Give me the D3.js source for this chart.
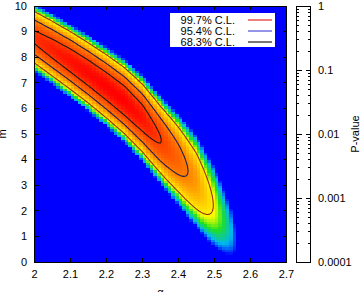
<!DOCTYPE html>
<html>
<head>
<meta charset="utf-8">
<script src="https://cdn.jsdelivr.net/npm/d3@7"></script>
<style>
  body { margin: 0; background: #fff; }
  text { font-family: "Liberation Sans", Arial, sans-serif; font-size: 11px; fill: #000; }
</style>
</head>
<body>
<svg id="chart" width="362" height="292"></svg>
<script>
// ridge of the fit (a, centre m, vertical width, chi2 offset)
const ridgeA  = [1.95, 2.0, 2.05, 2.1, 2.15, 2.2, 2.25, 2.3, 2.35, 2.4, 2.45, 2.5, 2.55, 2.6, 2.7];
const ridgeM  = [9.25, 8.78, 8.33, 7.87, 7.38, 6.86, 6.3, 5.62, 4.78, 4.0, 3.15, 2.15, 1.1, -0.3, -4];
const ridgeW  = [0.31, 0.316, 0.325, 0.335, 0.345, 0.36, 0.375, 0.395, 0.42, 0.47, 0.53, 0.59, 0.62, 0.7, 1.0];
const ridgeC0 = [3.5, 1.67, 1.0, 0.5, 0.2, 0.05, 0.0, 0.6, 2.2, 4.6, 7.6, 12.1, 17.3, 25, 40];

// delta chi2 -> log10(P-value) as the colours show it
const dchiKnots = [0, 2.3, 6.18, 11.8, 13, 14.5, 16, 17.5, 19];
const logPKnots = [0, -0.25, -0.5, -0.95, -1.4, -2.05, -2.65, -3.3, -4];

const clLevels = [11.8, 6.18, 2.3];
const clNames  = ["99.7% C.L.", "95.4% C.L.", "68.3% C.L."];
const clLegendColors = ["#e00000", "#2a2ad8", "#777777"];
const clLineColors   = ["#983010", "#201c50", "#181818"];

const aTicks = [2, 2.1, 2.2, 2.3, 2.4, 2.5, 2.6, 2.7];
const mTicks = [0, 1, 2, 3, 4, 5, 6, 7, 8, 9, 10];
const pTicks = [1, 0.1, 0.01, 0.001, 0.0001];

const svg = d3.select("#chart");
const L = 34.5, R = 286.5, T = 6, B = 262;

const x = d3.scaleLinear().domain([2, 2.7]).range([L, R]);
const y = d3.scaleLinear().domain([0, 10]).range([B, T]);

const mc = d3.scaleLinear().domain(ridgeA).range(ridgeM).clamp(true);
const mw = d3.scaleLinear().domain(ridgeA).range(ridgeW).clamp(true);
const c0 = d3.scaleLinear().domain(ridgeA).range(ridgeC0).clamp(true);
const toLogP = d3.scaleLinear().domain(dchiKnots).range(logPKnots).clamp(true);

function dchi(a, m) {
  const d = (m - mc(a)) / mw(a);
  return c0(a) + d * d;
}

const color = d3.scaleLinear()
  .domain([-4, -3, -2, -1, 0])
  .range(["#0000ff", "#00b8f0", "#20e020", "#ffff00", "#ff0000"]);

// heat map cells
const da = 0.01, dm = 0.1;
const cells = [];
for (let i = 0; i < 70; i++) {
  for (let j = 0; j < 100; j++) {
    const a = 2 + (i + 0.5) * da, m = (j + 0.5) * dm;
    cells.push({a: 2 + i * da, m: j * dm, v: toLogP(dchi(a, m))});
  }
}

svg.append("defs").append("clipPath").attr("id", "plotclip")
  .append("rect").attr("x", L).attr("y", T).attr("width", R - L).attr("height", B - T);

const plot = svg.append("g").attr("clip-path", "url(#plotclip)");

plot.append("g").attr("shape-rendering", "crispEdges")
  .selectAll("rect").data(cells).join("rect")
  .attr("x", d => x(d.a))
  .attr("y", d => y(d.m + dm))
  .attr("width", x(2 + da) - x(2) + 0.6)
  .attr("height", y(0) - y(dm) + 0.6)
  .attr("fill", d => color(d.v));

// contours of delta chi2
const ca0 = 1.97, cda = 0.004, cnx = 191;
const cm0 = -0.2, cdm = 0.04, cny = 261;
const grid = new Array(cnx * cny);
for (let j = 0; j < cny; j++) {
  for (let i = 0; i < cnx; i++) {
    grid[j * cnx + i] = -dchi(ca0 + i * cda, cm0 + j * cdm);
  }
}
const contours = d3.contours().size([cnx, cny]).thresholds(clLevels.map(v => -v))(grid);
const proj = d3.geoTransform({
  point(px, py) {
    this.stream.point(x(ca0 + (px - 0.5) * cda), y(cm0 + (py - 0.5) * cdm));
  }
});
const path = d3.geoPath(proj);

plot.append("g").selectAll("path").data(contours).join("path")
  .attr("d", path)
  .attr("fill", "none")
  .attr("stroke", d => clLineColors[clLevels.indexOf(-d.value)])
  .attr("stroke-width", 1.1);

// legend
const leg = svg.append("g");
leg.append("rect").attr("x", 170).attr("y", 13).attr("width", 105).attr("height", 34).attr("fill", "#fff");
clNames.forEach((name, i) => {
  const ly = 20 + i * 11;
  leg.append("text").attr("x", 235).attr("y", ly + 3.8).attr("text-anchor", "end").text(name);
  leg.append("line").attr("x1", 248).attr("x2", 272).attr("y1", ly).attr("y2", ly)
    .attr("stroke", clLegendColors[i]).attr("stroke-width", i === 2 ? 2 : 1);
});

// frame and ticks
const ax = svg.append("g").attr("stroke", "#000").attr("shape-rendering", "crispEdges");
ax.append("rect").attr("x", L).attr("y", T).attr("width", R - L).attr("height", B - T)
  .attr("fill", "none").attr("stroke-width", 1);
aTicks.forEach(t => {
  ax.append("line").attr("x1", x(t)).attr("x2", x(t)).attr("y1", B).attr("y2", B - 4);
  ax.append("line").attr("x1", x(t)).attr("x2", x(t)).attr("y1", T).attr("y2", T + 4);
});
mTicks.forEach(t => {
  ax.append("line").attr("x1", L).attr("x2", L + 4).attr("y1", y(t)).attr("y2", y(t));
  ax.append("line").attr("x1", R).attr("x2", R - 4).attr("y1", y(t)).attr("y2", y(t));
});

svg.append("g").selectAll("text").data(aTicks).join("text")
  .attr("x", d => x(d)).attr("y", 278).attr("text-anchor", "middle").text(d => d);
svg.append("g").selectAll("text").data(mTicks).join("text")
  .attr("x", 27).attr("y", d => y(d)).attr("dy", "0.35em").attr("text-anchor", "end").text(d => d);

svg.append("text").attr("transform", `translate(160.5,296)`).attr("text-anchor", "middle").text("α");
svg.append("text").attr("transform", `translate(6,134) rotate(-90)`).attr("text-anchor", "middle").text("m");

// colour box (drawn empty, as in the reference)
const CL = 296.5, CR = 310.5;
const p = d3.scaleLog().domain([1e-4, 1]).range([B, T]);
const cb = svg.append("g").attr("stroke", "#000").attr("shape-rendering", "crispEdges");
cb.append("rect").attr("x", CL).attr("y", T).attr("width", CR - CL).attr("height", B - T)
  .attr("fill", "#fff");
const minor = [];
for (let e = -4; e < 0; e++) for (let k = 2; k < 10; k++) minor.push(k * Math.pow(10, e));
minor.forEach(v => {
  cb.append("line").attr("x1", CL).attr("x2", CL + 2.5).attr("y1", Math.round(p(v)) + 0.5).attr("y2", Math.round(p(v)) + 0.5);
  cb.append("line").attr("x1", CR).attr("x2", CR - 2.5).attr("y1", Math.round(p(v)) + 0.5).attr("y2", Math.round(p(v)) + 0.5);
});
pTicks.forEach(v => {
  cb.append("line").attr("x1", CL).attr("x2", CL + 5).attr("y1", p(v)).attr("y2", p(v));
  cb.append("line").attr("x1", CR).attr("x2", CR - 5).attr("y1", p(v)).attr("y2", p(v));
});
svg.append("g").selectAll("text").data(pTicks).join("text")
  .attr("x", 318).attr("y", d => p(d)).attr("dy", "0.35em").text(d => d);
svg.append("text").attr("transform", `translate(359,134) rotate(-90)`).attr("text-anchor", "middle").text("P-value");
</script>
</body>
</html>
